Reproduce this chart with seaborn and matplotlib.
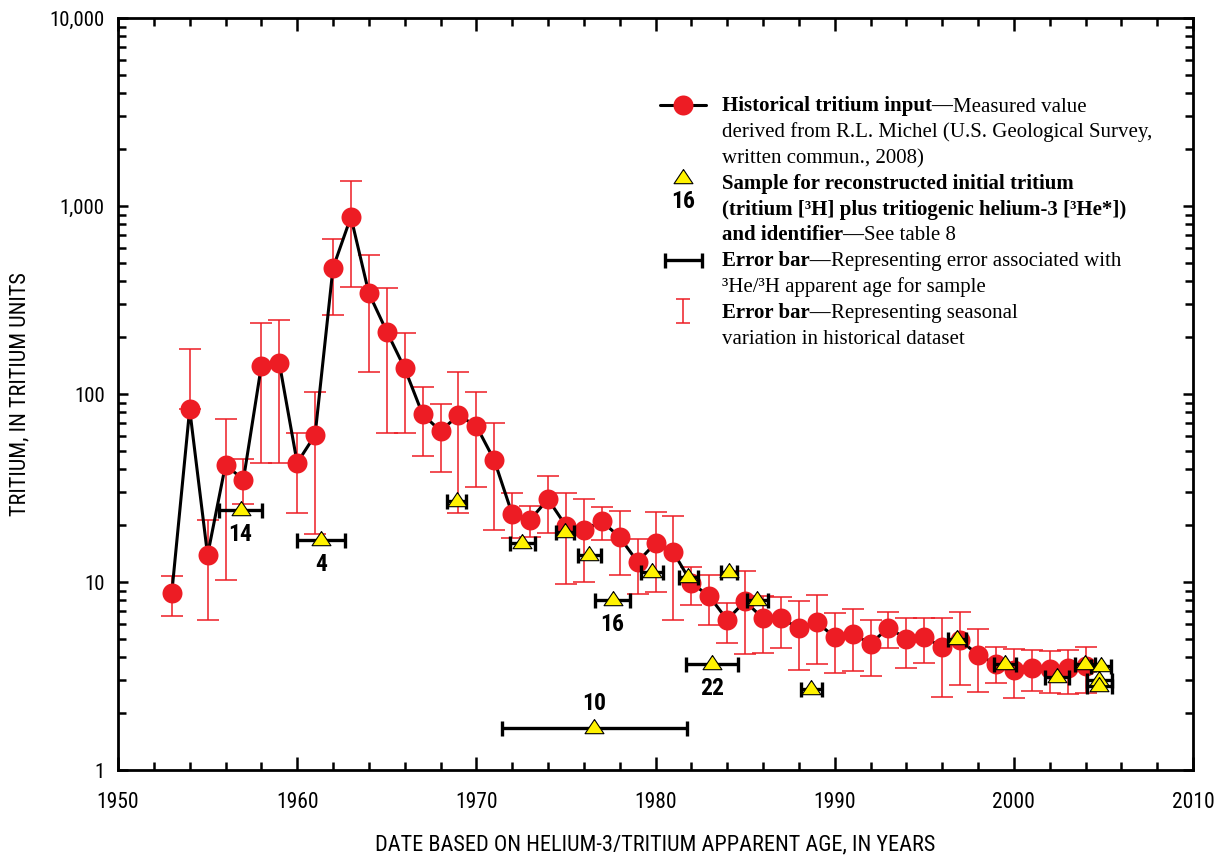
import numpy as np
import pandas as pd
import matplotlib
matplotlib.use("Agg")
import matplotlib.pyplot as plt
from matplotlib import font_manager as fm
from matplotlib.markers import MarkerStyle
from matplotlib.ticker import FuncFormatter, MultipleLocator, LogLocator, NullFormatter
import seaborn as sns

# Historical tritium input (annual values) with seasonal range
years = list(range(1953, 2005))
tritium = [8.7, 83, 13.9, 42, 35, 141, 147, 43, 60.5, 468,
           874, 344, 215, 137, 78, 63.6, 77, 67.6, 44.5, 23,
           21.4, 27.6, 19.9, 18.9, 21.1, 17.3, 12.8, 16.1, 14.4, 9.9,
           8.4, 6.3, 7.9, 6.4, 6.4, 5.7, 6.1, 5.1, 5.3, 4.7,
           5.7, 5.0, 5.1, 4.5, 4.9, 4.1, 3.66, 3.4, 3.49, 3.45,
           3.49, 3.57]
tritium_high = [10.8, 173, 21.4, 73.6, 45, 239, 248, 62, 102.5, 667,
                1358, 549, 366, 211, 109, 88.5, 131, 102.5, 70, 29.7,
                25.4, 36.6, 29.7, 27.6, 25, 23.9, 16.9, 23.6, 22.5, 12,
                10.9, 7.7, 11.4, 8.4, 8.3, 7.9, 8.5, 6.8, 7.2, 6.3,
                6.9, 6.4, 6.4, 6.4, 6.9, 5.6, 4.5, 4.4, 4.35, 4.3,
                4.35, 4.5]
tritium_low = [6.6, 83, 6.3, 10.3, 26, 43, 43, 23.3, 18, 263,
               371, 131, 62, 62, 46.8, 38.5, 23.3, 32, 18.9, 17.1,
               17.4, 18.2, 9.8, 10, 16.7, 10.9, 8.6, 8.85, 6.3, 7.5,
               5.9, 4.74, 4.14, 4.2, 4.46, 3.4, 3.66, 3.3, 3.36, 3.16,
               4.46, 3.49, 3.7, 2.44, 2.83, 2.6, 2.9, 2.41, 2.63, 2.57,
               2.54, 2.57]

# Samples: reconstructed initial tritium (3H + 3He*) at the 3He/3H date
sample_date = [1956.84, 1961.33, 1968.9, 1972.57, 1974.95, 1976.31, 1977.6,
               1979.8, 1981.84, 1976.59, 1983.15, 1984.1, 1985.68, 1988.7,
               1996.82, 1999.5, 2002.4, 2003.95, 2004.85, 2004.77, 2004.77]
sample_age_err = [1.2, 1.33, 0.53, 0.7, 0.5, 0.64, 0.98,
                  0.61, 0.53, 5.16, 1.45, 0.45, 0.58, 0.59,
                  0.5, 0.61, 0.67, 0.56, 0.55, 0.7, 0.7]
sample_tritium = [24.2, 16.7, 27, 16.1, 18.5, 13.9, 8.0,
                  11.3, 10.6, 1.67, 3.66, 11.3, 8.0, 2.7,
                  4.97, 3.66, 3.12, 3.66, 3.57, 3.0, 2.8]
sample_id = ["14", "4", "", "", "", "", "16",
             "", "", "10", "22", "", "", "",
             "", "", "", "", "", "", ""]

x_ticks = [1950, 1960, 1970, 1980, 1990, 2000, 2010]
y_ticks = [1, 10, 100, 1000, 10000]


def narrow_font():
    """Pick a condensed sans-serif face for axis text."""
    entries = fm.fontManager.ttflist
    names = {f.name for f in entries}
    for cand in ["Liberation Sans Narrow", "Roboto Condensed",
                 "Noto Sans Condensed", "DejaVu Sans Condensed",
                 "Open Sans Condensed"]:
        if cand in names:
            return cand, "normal"
    for f in entries:
        if (f.stretch in ("condensed", "semi-condensed", "extra-condensed")
                and "Mono" not in f.name and "Serif" not in f.name
                and "CJK" not in f.name):
            return f.name, f.stretch
    return "DejaVu Sans", "normal"


sns.set_theme(style="ticks", rc={
    "axes.edgecolor": "black", "text.color": "black",
    "xtick.color": "black", "ytick.color": "black",
    "axes.labelcolor": "black",
})
NARROW, STRETCH = narrow_font()
narrow = [NARROW, "DejaVu Sans"]
serif = ["Liberation Serif", "DejaVu Serif"]
plt.rcParams["font.family"] = narrow
plt.rcParams["font.stretch"] = STRETCH

RED = "#ED1C24"
YELLOW = "#FFF200"
tri_marker = MarkerStyle([(0, 0.95), (-1, -0.55), (1, -0.55), (0, 0.95)])

W, H = 1218, 858
fig = plt.figure(figsize=(W / 100, H / 100), dpi=100)
ax = fig.add_axes([118 / W, 1 - 770 / H, (1193 - 118) / W, (770 - 18) / H])

hist = pd.DataFrame({"year": years, "tritium": tritium,
                     "low": tritium_low, "high": tritium_high})
samples = pd.DataFrame({"date": sample_date, "err": sample_age_err,
                        "tritium": sample_tritium, "id": sample_id})

# seasonal variation bars
ax.errorbar(hist["year"], hist["tritium"],
            yerr=[hist["tritium"] - hist["low"], hist["high"] - hist["tritium"]],
            fmt="none", ecolor=RED, elinewidth=1.1, capsize=7.6, capthick=1.1,
            zorder=2)
sns.lineplot(data=hist, x="year", y="tritium", color="black", lw=2.2,
             ax=ax, zorder=3)
sns.scatterplot(data=hist, x="year", y="tritium", s=207, color=RED,
                linewidth=0, ax=ax, zorder=4)

# apparent-age error bars and sample markers
ax.errorbar(samples["date"], samples["tritium"], xerr=samples["err"],
            fmt="none", ecolor="black", elinewidth=2.4, capsize=5.4,
            capthick=2.4, zorder=5)
sns.scatterplot(data=samples, x="date", y="tritium", marker=tri_marker,
                s=185, color=YELLOW, edgecolor="black", linewidth=0.8,
                ax=ax, zorder=6)

for d, v, sid in zip(sample_date, sample_tritium, sample_id):
    if not sid:
        continue
    dy = 17.5 if sid == "10" else -17.5
    ax.annotate(sid, (d, v), xytext=(0, dy), textcoords="offset points",
                ha="center", va="center", fontsize=17, fontweight="bold",
                family=narrow, fontstretch=STRETCH, zorder=7)

ax.set_yscale("log")
ax.set_xlim(1950, 2010)
ax.set_ylim(1, 10000)
ax.set_xticks(x_ticks)
ax.xaxis.set_minor_locator(MultipleLocator(2))
ax.set_yticks(y_ticks)
ax.yaxis.set_major_formatter(FuncFormatter(lambda v, _: f"{v:,.0f}"))
ax.yaxis.set_minor_locator(LogLocator(base=10, subs=range(2, 10)))
ax.yaxis.set_minor_formatter(NullFormatter())

for s in ax.spines.values():
    s.set_visible(True)
    s.set_linewidth(2.0)
    s.set_color("black")
ax.tick_params(which="both", direction="in", top=True, right=True, width=1.8)
ax.tick_params(axis="x", which="major", length=9.5, pad=16, labelsize=15.5)
ax.tick_params(axis="x", which="minor", length=6)
ax.tick_params(axis="y", which="major", length=7.5, pad=9.5, labelsize=15)
ax.tick_params(axis="y", which="minor", length=5.5)

ax.set_xlabel("DATE BASED ON HELIUM-3/TRITIUM APPARENT AGE, IN YEARS",
              fontsize=16, va="center")
ax.set_ylabel("TRITIUM, IN TRITIUM UNITS", fontsize=16, va="center")
ax.xaxis.set_label_coords(0.5, (770 - 845) / 752)
ax.yaxis.set_label_coords((20 - 118) / 1075, 0.5)
ax.grid(False)

# ---- explanation block, laid out in pixel units ----
lg = fig.add_axes([0, 0, 1, 1], facecolor="none")
lg.set_xlim(0, W)
lg.set_ylim(H, 0)
lg.axis("off")

lg.plot([660, 706], [105, 105], color="black", lw=2.2, zorder=3)
lg.plot([683], [105], "o", ms=14.4, color=RED, mec="none", zorder=4)
lg.scatter([683], [178], marker=tri_marker, s=185, color=YELLOW,
           edgecolor="black", linewidth=0.8, zorder=4)
lg.text(683, 202, "16", ha="center", va="center", fontsize=17,
        fontweight="bold", family=narrow, fontstretch=STRETCH)
lg.errorbar([683.5], [260], xerr=[18.5], fmt="none", ecolor="black",
            elinewidth=2.4, capsize=5.4, capthick=2.4)
lg.errorbar([683], [311], yerr=[12], fmt="none", ecolor=RED,
            elinewidth=1.1, capsize=5.0, capthick=1.1)

renderer = fig.canvas.get_renderer()


def rich_line(x, y, parts, size=15):
    for text, weight in parts:
        t = lg.text(x, y, text, ha="left", va="baseline", fontsize=size,
                    fontweight=weight, family=serif, fontstretch="normal")
        x += t.get_window_extent(renderer).width


lines = [
    [("Historical tritium input\u2014", "bold"), ("Measured value", "normal")],
    [("derived from R.L. Michel (U.S. Geological Survey,", "normal")],
    [("written commun., 2008)", "normal")],
    [("Sample for reconstructed initial tritium", "bold")],
    [("(tritium [\u00b3H] plus tritiogenic helium-3 [\u00b3He*])", "bold")],
    [("and identifier\u2014", "bold"), ("See table 8", "normal")],
    [("Error bar\u2014", "bold"), ("Representing error associated with", "normal")],
    [("\u00b3He/\u00b3H apparent age for sample", "normal")],
    [("Error bar\u2014", "bold"), ("Representing seasonal", "normal")],
    [("variation in historical dataset", "normal")],
]
for i, parts in enumerate(lines):
    rich_line(722, 111.5 + 25.8 * i, parts)

fig.savefig("out.png", dpi=100)
